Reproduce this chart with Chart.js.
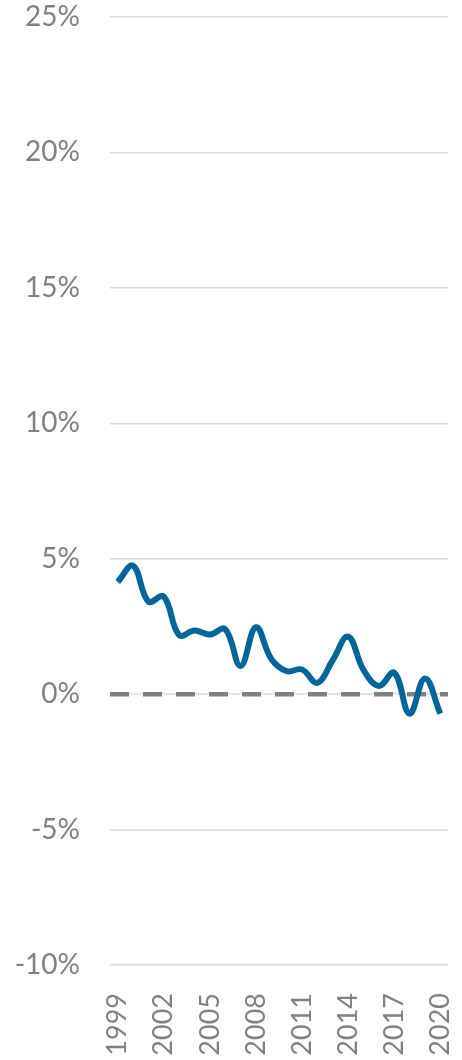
<!DOCTYPE html>
<html>
<head>
<meta charset="utf-8">
<script src="https://cdn.jsdelivr.net/npm/chart.js@4/dist/chart.umd.min.js"></script>
<style>
  html, body { margin: 0; padding: 0; background: #fff; }
  #wrap { width: 462px; height: 1060px; }
</style>
</head>
<body>
<div id="wrap"><canvas id="growthChart"></canvas></div>
<script>
const years = [1999, 2000, 2001, 2002, 2003, 2004, 2005, 2006, 2007, 2008, 2009,
  2010, 2011, 2012, 2013, 2014, 2015, 2016, 2017, 2018, 2019, 2020];
const growth = [4.14, 4.74, 3.42, 3.6, 2.18, 2.35, 2.2, 2.4, 1.04, 2.47, 1.3,
  0.85, 0.91, 0.42, 1.26, 2.12, 0.89, 0.3, 0.79, -0.72, 0.58, -0.72];
const yTicks = [-10, -5, 0, 5, 10, 15, 20, 25];
const baseline = 0;

const grey = "#808080";

// dashed reference line across the full plot width
const baselinePlugin = {
  id: "baseline",
  beforeDatasetsDraw(chart) {
    const { ctx, chartArea, scales } = chart;
    const y = scales.y.getPixelForValue(baseline);
    ctx.save();
    ctx.strokeStyle = grey;
    ctx.lineWidth = 4.5;
    ctx.setLineDash([19, 14]);
    ctx.beginPath();
    ctx.moveTo(chartArea.left, y);
    ctx.lineTo(chartArea.right, y);
    ctx.stroke();
    ctx.restore();
  }
};

new Chart(document.getElementById("growthChart"), {
  type: "line",
  data: {
    labels: years.map(String),
    datasets: [{
      data: growth,
      borderColor: "#006699",
      borderWidth: 6,
      tension: 0.4,
      pointRadius: 0,
      fill: false
    }]
  },
  options: {
    responsive: true,
    maintainAspectRatio: false,
    animation: false,
    layout: { padding: { top: 17, right: 14, left: 0, bottom: 0 } },
    plugins: { legend: { display: false }, tooltip: { enabled: false } },
    scales: {
      x: {
        offset: true,
        grid: { display: false },
        border: { display: false },
        afterFit: s => { s.height = 95; s.paddingLeft = 0; s.paddingRight = 0; },
        ticks: {
          autoSkip: false,
          minRotation: 90,
          maxRotation: 90,
          padding: 20,
          color: grey,
          font: { family: "Lato", size: 27 },
          callback: (v, i) => (i % 3 === 0 ? years[i] : "")
        }
      },
      y: {
        min: yTicks[0],
        max: yTicks[yTicks.length - 1],
        afterFit: s => { s.width = 110; s.paddingTop = 0; s.paddingBottom = 0; },
        afterBuildTicks: s => { s.ticks = yTicks.map(v => ({ value: v })); },
        grid: { color: "#d9d9d9", lineWidth: 1.5, drawTicks: false },
        border: { display: false },
        ticks: {
          padding: 30,
          color: grey,
          font: { family: "Lato", size: 28 },
          callback: v => v + "%"
        }
      }
    }
  },
  plugins: [baselinePlugin]
});
</script>
</body>
</html>
